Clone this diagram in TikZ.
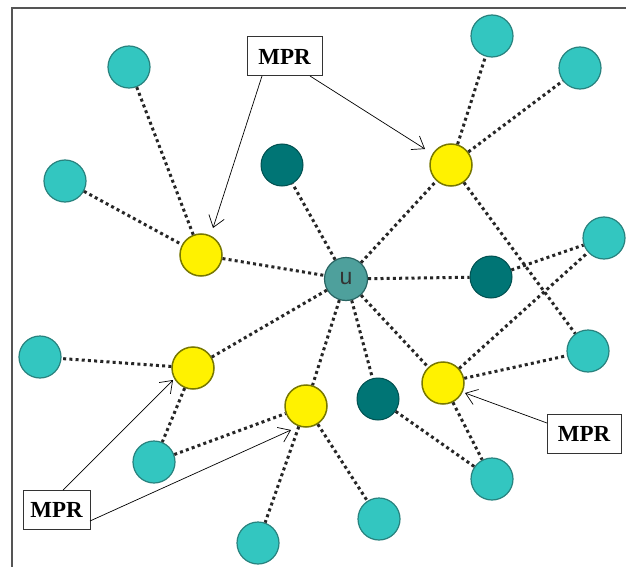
\documentclass[tikz,border=0pt]{standalone}
\usepackage{fontspec}
\setmainfont{Liberation Serif}
\newfontfamily\labelsans{Liberation Sans}
\usetikzlibrary{arrows.meta}
\definecolor{lteal}{RGB}{51,198,192}
\definecolor{ltealb}{RGB}{40,130,126}
\definecolor{dteal}{RGB}{0,117,117}
\definecolor{dtealb}{RGB}{0,80,80}
\definecolor{uteal}{RGB}{78,160,156}
\definecolor{ubord}{RGB}{40,100,98}
\definecolor{ybord}{RGB}{120,120,0}
\definecolor{framec}{RGB}{85,85,85}
\tikzset{
  leaf/.style={circle, minimum size=42pt, inner sep=0pt, fill=lteal, draw=ltealb, line width=1.2pt},
  hidden/.style={circle, minimum size=42pt, inner sep=0pt, fill=dteal, draw=dtealb, line width=1pt},
  relay/.style={circle, minimum size=42pt, inner sep=0pt, fill=yellow, draw=ybord, line width=1.5pt},
  center/.style={circle, minimum size=43pt, inner sep=0pt, fill=uteal, draw=ubord, line width=1.2pt, font=\labelsans\fontsize{23}{23}\selectfont, text=black!80},
  link/.style={draw=black!85, line width=3pt, dash pattern=on 3pt off 3.2pt},
  tag/.style={draw=black!80, fill=white, line width=1pt, inner sep=0pt, minimum height=39pt, font=\bfseries\fontsize{23}{23}\selectfont},
  point/.style={draw=black, line width=0.7pt, -{Straight Barb[length=11pt,width=16pt,line width=0.7pt]}}
}
\begin{document}
\begin{tikzpicture}[x=1pt,y=-1pt]
\useasboundingbox (0,0) rectangle (626,567);
\fill[white] (0,0) rectangle (626,567);
\draw[framec, line width=2pt] (12,567) -- (12,8) -- (626,8);

% nodes
\node[center] (u) at (346,279) {u};
\node[relay] (y1) at (201,255) {};
\node[relay] (y2) at (451,165) {};
\node[relay] (y3) at (193,368) {};
\node[relay] (y4) at (306,406) {};
\node[relay] (y5) at (443,383) {};
\node[hidden] (d1) at (282,165) {};
\node[hidden] (d2) at (491,277) {};
\node[hidden] (d3) at (378,399) {};
\node[leaf] (l1) at (129,67) {};
\node[leaf] (l2) at (65,181) {};
\node[leaf] (l3) at (492,36) {};
\node[leaf] (l4) at (580,68) {};
\node[leaf] (l5) at (604,238) {};
\node[leaf] (l6) at (588,351) {};
\node[leaf] (l7) at (40,357) {};
\node[leaf] (l8) at (154,462) {};
\node[leaf] (l9) at (492,479) {};
\node[leaf] (l10) at (379,519) {};
\node[leaf] (l11) at (258,543) {};

% dotted links
\foreach \a/\b in {l1/y1, l2/y1, y1/u, u/d1, u/y2, y2/l3, y2/l4, y2/l6, u/d2, d2/l5,
                   u/y3, y3/l7, y3/l8, l8/y4, u/y4, y4/l11, y4/l10, u/d3, d3/l9,
                   u/y5, y5/l5, y5/l6, y5/l9}
  \draw[link] (\a) -- (\b);

% labels
\node[tag, minimum width=75pt] (mprtop) at (284.5,56.5) {MPR};
\node[tag, minimum width=67pt] (mprbl) at (56.5,509.5) {MPR};
\node[tag, minimum width=74pt] (mprr) at (584,434) {MPR};

\coordinate (s1) at (262,76);
\coordinate (t1) at (213,228);
\coordinate (s2) at (310,76);
\coordinate (t2) at (425,149);
\coordinate (s3) at (63,490);
\coordinate (t3) at (173,380);
\coordinate (s4) at (90,521);
\coordinate (t4) at (291,430);
\coordinate (s5) at (547,423);
\coordinate (t5) at (465,393);
\draw[point] (s1) -- (t1);
\draw[point] (s2) -- (t2);
\draw[point] (s3) -- (t3);
\draw[point] (s4) -- (t4);
\draw[point] (s5) -- (t5);
\end{tikzpicture}
\end{document}
